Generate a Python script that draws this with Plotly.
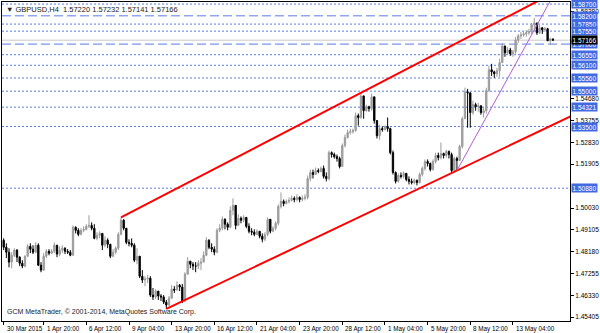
import plotly.graph_objects as go

# ---------------- data ----------------
first_open = 1.4867
close = [1.4837,1.4816,1.4774,1.4803,1.4825,1.4795,1.4769,1.4757,1.4799,1.4841,
         1.4829,1.4816,1.4846,1.4761,1.4740,1.4799,1.4820,1.4812,1.4820,1.4846,
         1.4808,1.4825,1.4833,1.4820,1.4816,1.4803,1.4922,1.4909,1.4892,1.4909,
         1.4913,1.4926,1.4930,1.4918,1.4875,1.4888,1.4896,1.4846,1.4867,1.4850,
         1.4799,1.4816,1.4833,1.4892,1.4952,1.4918,1.4858,1.4854,1.4846,1.4782,
         1.4799,1.4714,1.4698,1.4702,1.4706,1.4634,1.4626,1.4651,1.4630,1.4626,
         1.4604,1.4592,1.4621,1.4659,1.4655,1.4676,1.4668,1.4609,1.4723,1.4778,
         1.4765,1.4757,1.4757,1.4769,1.4774,1.4803,1.4867,1.4837,1.4829,1.4816,
         1.4909,1.4918,1.4956,1.4935,1.4922,1.4994,1.5015,1.4930,1.4960,1.4952,
         1.4964,1.4926,1.4905,1.4901,1.4892,1.4905,1.4884,1.4871,1.4892,1.4956,
         1.4905,1.4918,1.4939,1.5011,1.5032,1.5023,1.5032,1.5036,1.5045,1.5040,
         1.5049,1.5040,1.5045,1.5049,1.5129,1.5155,1.5146,1.5163,1.5159,1.5172,
         1.5138,1.5129,1.5239,1.5231,1.5222,1.5214,1.5180,1.5269,1.5303,1.5324,
         1.5328,1.5333,1.5396,1.5388,1.5480,1.5417,1.5434,1.5426,1.5476,1.5375,
         1.5311,1.5341,1.5337,1.5350,1.5341,1.5239,1.5155,1.5117,1.5142,1.5138,
         1.5151,1.5125,1.5117,1.5112,1.5121,1.5112,1.5146,1.5172,1.5201,1.5193,
         1.5167,1.5201,1.5227,1.5218,1.5235,1.5227,1.5244,1.5231,1.5163,1.5214,
         1.5206,1.5265,1.5383,1.5497,1.5493,1.5409,1.5443,1.5434,1.5438,1.5409,
         1.5417,1.5502,1.5591,1.5582,1.5574,1.5587,1.5621,1.5692,1.5663,1.5675,
         1.5659,1.5667,1.5718,1.5735,1.5739,1.5743,1.5748,1.5752,1.5782,1.5790,
         1.5748,1.5769,1.5760,1.5765,1.5714,1.5722,1.57166]
high = [1.4875,1.4854,1.4833,1.4816,1.4833,1.4829,1.4799,1.4782,1.4803,1.4850,
        1.4854,1.4846,1.4858,1.4854,1.4774,1.4812,1.4829,1.4829,1.4829,1.4858,
        1.4846,1.4841,1.4846,1.4837,1.4829,1.4825,1.4930,1.4926,1.4918,1.4918,
        1.4926,1.4935,1.4973,1.4943,1.4935,1.4901,1.4905,1.4896,1.4884,1.4875,
        1.4846,1.4829,1.4841,1.4901,1.4964,1.4956,1.4918,1.4871,1.4875,1.4854,
        1.4833,1.4791,1.4740,1.4714,1.4719,1.4714,1.4664,1.4659,1.4651,1.4638,
        1.4634,1.4613,1.4630,1.4676,1.4672,1.4693,1.4681,1.4681,1.4731,1.4795,
        1.4778,1.4774,1.4774,1.4782,1.4791,1.4820,1.4880,1.4871,1.4854,1.4841,
        1.4918,1.4935,1.4968,1.4960,1.4943,1.5011,1.5045,1.5007,1.4977,1.4968,
        1.4973,1.4964,1.4939,1.4918,1.4913,1.4913,1.4905,1.4896,1.4901,1.4964,
        1.4952,1.4926,1.4947,1.5019,1.5070,1.5040,1.5040,1.5049,1.5057,1.5053,
        1.5062,1.5053,1.5057,1.5062,1.5142,1.5167,1.5167,1.5176,1.5172,1.5180,
        1.5184,1.5155,1.5248,1.5244,1.5239,1.5231,1.5222,1.5278,1.5316,1.5337,
        1.5341,1.5341,1.5409,1.5405,1.5493,1.5468,1.5443,1.5438,1.5489,1.5464,
        1.5371,1.5358,1.5350,1.5354,1.5388,1.5345,1.5248,1.5159,1.5151,1.5155,
        1.5159,1.5146,1.5138,1.5129,1.5129,1.5125,1.5155,1.5180,1.5210,1.5210,
        1.5197,1.5210,1.5239,1.5239,1.5282,1.5239,1.5252,1.5248,1.5239,1.5222,
        1.5222,1.5273,1.5392,1.5515,1.5510,1.5476,1.5460,1.5451,1.5451,1.5434,
        1.5430,1.5515,1.5608,1.5616,1.5587,1.5599,1.5638,1.5705,1.5688,1.5688,
        1.5684,1.5675,1.5731,1.5743,1.5752,1.5752,1.5760,1.5765,1.5790,1.5811,
        1.5790,1.5782,1.5773,1.5773,1.5769,1.5727,1.57232]
low = [1.4825,1.4791,1.4752,1.4748,1.4795,1.4774,1.4757,1.4748,1.4752,1.4795,
       1.4812,1.4808,1.4812,1.4757,1.4731,1.4736,1.4791,1.4803,1.4808,1.4812,
       1.4795,1.4799,1.4812,1.4808,1.4808,1.4799,1.4803,1.4896,1.4884,1.4888,
       1.4901,1.4909,1.4918,1.4909,1.4871,1.4867,1.4875,1.4825,1.4837,1.4833,
       1.4791,1.4795,1.4808,1.4825,1.4888,1.4909,1.4850,1.4841,1.4837,1.4774,
       1.4765,1.4706,1.4685,1.4672,1.4685,1.4626,1.4613,1.4617,1.4613,1.4609,
       1.4596,1.4575,1.4587,1.4617,1.4643,1.4655,1.4651,1.4600,1.4604,1.4719,
       1.4748,1.4740,1.4731,1.4744,1.4740,1.4774,1.4799,1.4829,1.4816,1.4803,
       1.4812,1.4901,1.4909,1.4913,1.4909,1.4918,1.4973,1.4913,1.4939,1.4939,
       1.4943,1.4918,1.4896,1.4888,1.4884,1.4888,1.4875,1.4858,1.4863,1.4884,
       1.4896,1.4901,1.4909,1.4930,1.5002,1.5011,1.5019,1.5023,1.5032,1.5028,
       1.5032,1.5028,1.5032,1.5036,1.5040,1.5117,1.5129,1.5146,1.5151,1.5155,
       1.5129,1.5117,1.5121,1.5218,1.5214,1.5201,1.5172,1.5180,1.5261,1.5299,
       1.5316,1.5320,1.5328,1.5354,1.5383,1.5383,1.5413,1.5413,1.5417,1.5362,
       1.5299,1.5294,1.5328,1.5333,1.5328,1.5231,1.5146,1.5108,1.5112,1.5129,
       1.5129,1.5117,1.5104,1.5104,1.5104,1.5100,1.5108,1.5138,1.5163,1.5180,
       1.5159,1.5163,1.5193,1.5206,1.5210,1.5214,1.5218,1.5214,1.5155,1.5159,
       1.5163,1.5206,1.5256,1.5383,1.5345,1.5345,1.5400,1.5417,1.5413,1.5400,
       1.5388,1.5405,1.5497,1.5565,1.5557,1.5561,1.5561,1.5621,1.5646,1.5654,
       1.5650,1.5646,1.5659,1.5705,1.5722,1.5731,1.5731,1.5739,1.5743,1.5756,
       1.5739,1.5743,1.5743,1.5752,1.5714,1.5697,1.57141]
bar_index = list(range(len(close)))
open_ = [first_open] + close[:-1]

tick_index = [0, 15, 31, 47, 63, 79, 95, 111, 127, 143, 159, 175, 191]
tick_text = ["30 Mar 2015", "1 Apr 20:00", "6 Apr 12:00", "9 Apr 04:00", "13 Apr 20:00",
             "16 Apr 12:00", "21 Apr 04:00", "23 Apr 20:00", "28 Apr 12:00", "1 May 04:00",
             "5 May 20:00", "8 May 12:00", "13 May 04:00"]

price_ticks = [1.45405, 1.46330, 1.47255, 1.48180, 1.49105, 1.50030, 1.51905,
               1.52830, 1.53755, 1.54680, 1.58380]

hline_dotted = [1.58700, 1.57850, 1.57550, 1.56550, 1.56100, 1.55560, 1.55000,
                1.54321, 1.53500, 1.50880]
hline_dashed = [1.58200, 1.57000]
bid_price = 1.57166

upper_channel = [(44, 1.4964), (134, 1.5493)]
lower_channel = [(61, 1.4575), (170, 1.5163)]
purple_trend = [(170, 1.5163), (199, 1.5760)]
ray_end = 216

x_range = [-0.63, 212.4]
y_range = [1.45239, 1.58788]

FONT = "Liberation Sans"
BLUE_LINE = "#5A7DE8"
BLUE_LABEL = "#4169E1"

fig = go.Figure()

fig.add_trace(go.Candlestick(
    x=bar_index, open=open_, high=high, low=low, close=close,
    increasing=dict(line=dict(color="#9a9a9a", width=1), fillcolor="#a8a8a8"),
    decreasing=dict(line=dict(color="#000000", width=1), fillcolor="#000000"),
    whiskerwidth=0, hoverinfo="skip", showlegend=False))


def ray(points, color, width):
    (xa, ya), (xb, yb) = points
    slope = (yb - ya) / (xb - xa)
    fig.add_trace(go.Scatter(x=[xa, ray_end], y=[ya, ya + slope * (ray_end - xa)],
                             mode="lines", line=dict(color=color, width=width),
                             hoverinfo="skip", showlegend=False))


ray(upper_channel, "#FF0000", 2)
ray(lower_channel, "#FF0000", 2)
ray(purple_trend, "#B060D0", 1)

shapes = []
for p in hline_dotted:
    shapes.append(dict(type="line", xref="paper", x0=0, x1=1, yref="y", y0=p, y1=p,
                       line=dict(color=BLUE_LINE, width=1, dash="2px,2px"), layer="below"))
for p in hline_dashed:
    shapes.append(dict(type="line", xref="paper", x0=0, x1=1, yref="y", y0=p, y1=p,
                       line=dict(color=BLUE_LINE, width=1, dash="9px,4px"), layer="below"))
shapes.append(dict(type="line", xref="paper", x0=0, x1=1, yref="y", y0=bid_price, y1=bid_price,
                   line=dict(color="#c8c8c8", width=1), layer="below"))

annotations = []
for xi, txt in zip(tick_index, tick_text):
    annotations.append(dict(x=xi, xref="x", y=0, yref="paper", yanchor="top", xanchor="left",
                            yshift=-2, xshift=1, text=txt, showarrow=False,
                            font=dict(family=FONT, size=6.3, color="#000")))
for p in hline_dotted + hline_dashed:
    annotations.append(dict(x=1, xref="paper", y=p, yref="y", xanchor="left", yanchor="middle",
                            xshift=1, text=f"{p:.5f}", showarrow=False, bgcolor=BLUE_LABEL,
                            borderpad=0.5, font=dict(family=FONT, size=6.5, color="white")))
annotations.append(dict(x=1, xref="paper", y=bid_price, yref="y", xanchor="left", yanchor="middle",
                        xshift=1, text=f"{bid_price:.5f}", showarrow=False, bgcolor="#000000",
                        borderpad=0.5, font=dict(family=FONT, size=6.5, color="white")))
annotations.append(dict(x=0, xref="paper", y=1, yref="paper", xanchor="left", yanchor="top",
                        xshift=2, yshift=-1,
                        text=f"▼ GBPUSD,H4  {open_[-1]:.5f} {high[-1]:.5f} {low[-1]:.5f} {close[-1]:.5f}",
                        showarrow=False, font=dict(family=FONT, size=7.5, color="#222")))
annotations.append(dict(x=0, xref="paper", y=0, yref="paper", xanchor="left", yanchor="bottom",
                        xshift=3, yshift=3,
                        text="GCM MetaTrader, © 2001-2014, MetaQuotes Software Corp.",
                        showarrow=False, font=dict(family=FONT, size=7, color="#222")))

fig.update_layout(
    width=600, height=333, margin=dict(l=1, r=28, t=1, b=12),
    paper_bgcolor="white", plot_bgcolor="white", showlegend=False,
    font=dict(family=FONT, size=7, color="black"),
    shapes=shapes, annotations=annotations,
)
fig.update_xaxes(range=x_range, tickvals=tick_index, showticklabels=False, ticks="outside",
                 ticklen=3, tickcolor="black", showgrid=False, zeroline=False,
                 showline=True, linecolor="black", linewidth=1, mirror=True,
                 rangeslider_visible=False, fixedrange=True)
fig.update_yaxes(side="right", range=y_range, tickvals=price_ticks,
                 ticktext=[f"{v:.5f}" for v in price_ticks], ticks="outside", ticklen=3,
                 tickcolor="black", tickfont=dict(family=FONT, size=6.5, color="black"),
                 showgrid=False, zeroline=False, showline=True, linecolor="black",
                 linewidth=1, mirror=True, fixedrange=True)

fig.write_html("out.html", config={"displayModeBar": False})
